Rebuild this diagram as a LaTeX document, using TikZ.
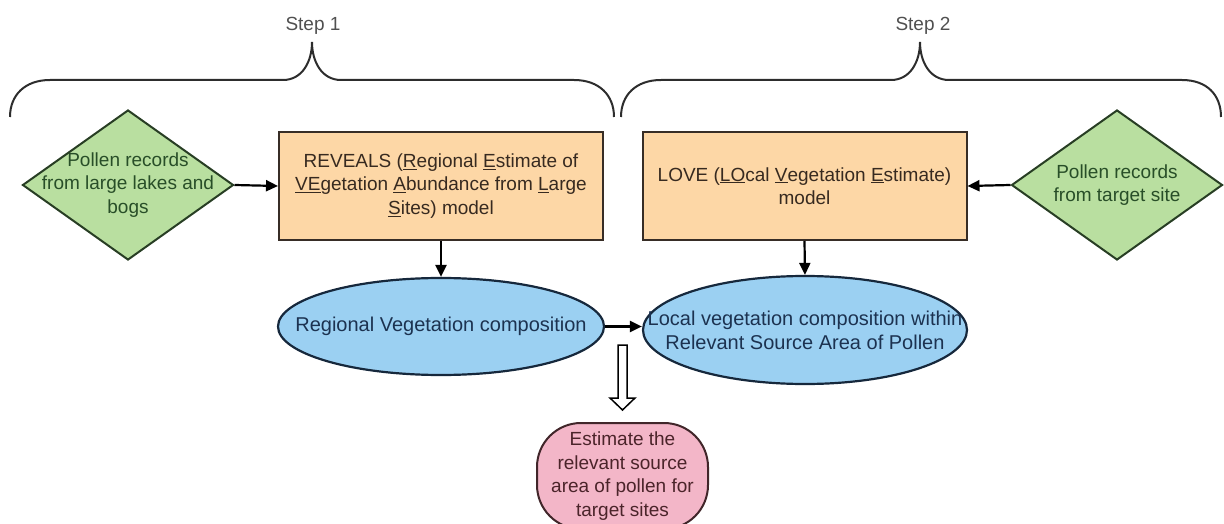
\documentclass[tikz,border=0pt]{standalone}
\usepackage{fontspec}
\setmainfont{Liberation Sans}
\usetikzlibrary{shapes.geometric,arrows.meta}
\definecolor{dfill}{RGB}{185,223,160}
\definecolor{ddraw}{RGB}{40,62,36}
\definecolor{dtext}{RGB}{40,78,40}
\definecolor{bfill}{RGB}{253,215,166}
\definecolor{bdraw}{RGB}{55,45,38}
\definecolor{btext}{RGB}{55,42,32}
\definecolor{efill}{RGB}{155,208,242}
\definecolor{edraw}{RGB}{22,40,60}
\definecolor{etext}{RGB}{28,50,80}
\definecolor{pfill}{RGB}{243,182,200}
\definecolor{pdraw}{RGB}{65,38,42}
\definecolor{ptext}{RGB}{75,36,42}
\definecolor{bracecol}{RGB}{45,45,45}
\definecolor{steptext}{RGB}{80,80,80}
\tikzset{
  txt/.style={font=\fontsize{19}{23.5}\selectfont, align=center, inner sep=0pt},
  diam/.style={diamond, draw=ddraw, fill=dfill, line width=2pt, minimum width=211pt, minimum height=150pt, inner sep=0pt},
  dlabel/.style={txt, text=dtext},
  modelbox/.style={rectangle, draw=bdraw, fill=bfill, line width=2pt, minimum width=324pt, minimum height=108pt, inner sep=0pt, txt, text=btext},
  ell/.style={ellipse, draw=edraw, fill=efill, line width=2.2pt, inner sep=0pt},
  elabel/.style={font=\fontsize{20}{24}\selectfont, align=center, inner sep=0pt, text=etext},
  pinkbox/.style={rectangle, rounded corners=44pt, draw=pdraw, fill=pfill, line width=2pt, minimum width=171pt, minimum height=106pt, inner sep=0pt, txt, text=ptext},
  conn/.style={draw=black, line width=2.2pt, -{Triangle[length=12pt,width=11pt]}},
  bracestyle/.style={draw=bracecol, line width=2pt},
  steplabel/.style={txt, text=steptext}
}
\begin{document}
\begin{tikzpicture}[x=1pt,y=-1pt]
\useasboundingbox (0,0) rectangle (1224,524);
% braces
\draw[bracestyle] (10,117) .. controls (10,95) and (25,80) .. (50,80) -- (283,80)
  .. controls (302,80) and (312,62) .. (312,42) .. controls (312,62) and (322,80) .. (341,80)
  -- (574,80) .. controls (599,80) and (614,95) .. (614,117);
\draw[bracestyle] (621,117) .. controls (621,95) and (636,80) .. (661,80) -- (891,80)
  .. controls (910,80) and (920,62) .. (920,42) .. controls (920,62) and (930,80) .. (949,80)
  -- (1182,80) .. controls (1207,80) and (1221,95) .. (1221,117);
\node[steplabel] (s1) at (313,26) {Step 1};
\node[steplabel] (s2) at (923,26) {Step 2};
% diamonds
\node[diam] (d1) at (128,185) {};
\node[dlabel] at (d1.center) {Pollen records\\from large lakes and\\bogs};
\node[diam] (d2) at (1117,185) {};
\node[dlabel] at (d2.center) {Pollen records\\from target site};
% model boxes
\node[modelbox] (r1) at (441,186) {REVEALS (\underline{R}egional \underline{E}stimate of\\\underline{VE}getation \underline{A}bundance from \underline{L}arge\\\underline{S}ites) model};
\node[modelbox] (l1) at (804.5,186) {LOVE (\underline{LO}cal \underline{V}egetation \underline{E}stimate)\\model};
% ellipses
\node[ell, minimum width=326pt, minimum height=97pt] (e1) at (441,326.5) {};
\node[elabel] at (e1.center) {Regional Vegetation composition};
\node[ell, minimum width=324pt, minimum height=108pt] (e2) at (805,330) {};
\node[elabel] at (e2.center) {Local vegetation composition within\\Relevant Source Area of Pollen};
% pink
\node[pinkbox] (p1) at (622.5,476) {Estimate the\\relevant source\\area of pollen for\\target sites};
% connectors
\draw[conn] (d1.east) -- (r1.west);
\draw[conn] (d2.west) -- (l1.east);
\draw[conn] (r1.south) -- (e1.north);
\draw[conn] (l1.south) -- (e2.north);
\draw[conn] (e1.east) -- (e1.east -| e2.west);
% hollow arrow
\coordinate (h0) at (622.5,345);
\draw[draw=black, fill=white, line width=1.5pt, line join=miter] (h0) ++(-4.5,0) -- ++(9,0) -- ++(0,53) -- ++(8,0) -- ++(-12.5,12) -- ++(-12.5,-12) -- ++(8,0) -- cycle;
\end{tikzpicture}
\end{document}
